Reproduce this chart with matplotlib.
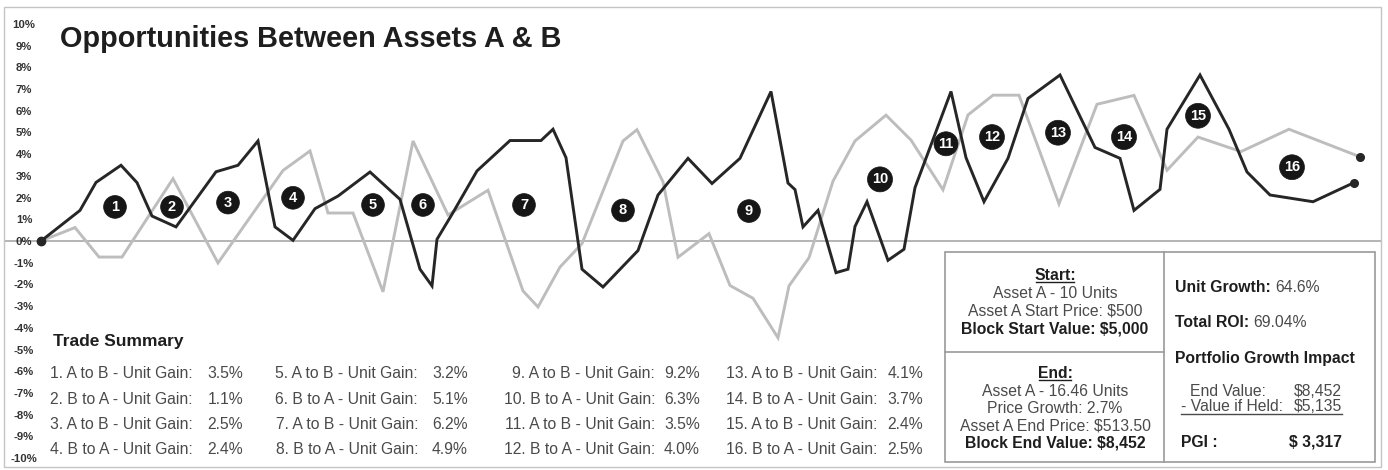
import matplotlib
matplotlib.use("Agg")
import matplotlib.pyplot as plt
from matplotlib.patches import Rectangle
from matplotlib.lines import Line2D

plt.rcParams['font.family'] = ['Liberation Sans', 'DejaVu Sans']

# ---------------- data ----------------
# Asset A (black) price change in %, x = time steps
asset_a_x = [0, 3.9, 5.5, 8.0, 9.6, 11.1, 13.5, 17.5, 19.7, 21.7, 23.4, 25.2, 27.4, 29.7, 32.9,
             35.9, 37.9, 39.1, 39.6, 41.1, 43.6, 46.9, 50.0, 51.2, 52.5, 54.1, 56.2, 59.7, 61.7,
             64.7, 67.1, 69.9, 73.0, 74.7, 75.4, 76.2, 77.7, 79.5, 80.7, 81.4, 82.6, 84.7, 86.3,
             87.4, 91.0, 92.5, 94.3, 96.7, 98.7, 101.9, 105.4, 107.9, 109.3, 111.9, 112.6, 115.9,
             118.8, 120.6, 122.9, 127.2, 131.3]
asset_a_y = [0, 1.41, 2.70, 3.49, 2.69, 1.15, 0.65, 3.19, 3.49, 4.61, 0.65, 0.03, 1.49, 2.07, 3.18,
             1.92, -1.30, -2.07, 0.08, 1.23, 3.23, 4.63, 4.63, 5.15, 3.84, -1.30, -2.12, -0.44, 2.12,
             3.81, 2.65, 3.81, 6.89, 2.67, 2.37, 0.65, 1.41, -1.46, -1.30, 0.67, 1.81, -0.89, -0.38,
             2.46, 6.89, 3.84, 1.81, 3.81, 6.57, 7.65, 4.31, 3.81, 1.41, 2.38, 5.15, 7.65,
             5.15, 3.18, 2.12, 1.81, 2.69]

# Asset B (gray)
asset_b_x = [0, 3.4, 5.8, 8.1, 13.2, 17.7, 24.2, 26.9, 28.7, 31.2, 34.2, 37.2, 40.7, 44.7, 48.2,
             49.7, 51.9, 54.1, 58.2, 59.6, 62.2, 63.7, 66.8, 68.9, 71.2, 73.7, 74.8, 76.8, 79.2,
             81.4, 84.5, 87.0, 90.2, 92.7, 95.2, 97.8, 101.8, 105.6, 109.3, 112.6, 115.7, 120.0,
             124.8, 131.9]
asset_b_y = [0, 0.62, -0.74, -0.74, 2.87, -1.01, 3.25, 4.15, 1.29, 1.29, -2.34, 4.61, 1.20, 2.34,
             -2.30, -3.04, -1.20, -0.12, 4.61, 5.13, 2.73, -0.75, 0.34, -2.05, -2.64, -4.46, -2.07,
             -0.77, 2.76, 4.61, 5.80, 4.65, 2.36, 5.81, 6.72, 6.72, 1.71, 6.30, 6.71, 3.26, 4.79,
             4.12, 5.15, 3.88]

# numbered trade markers
trade_nums = list(range(1, 17))
trade_x = [7.4, 13.1, 18.7, 25.2, 33.2, 38.2, 48.3, 58.2, 70.8, 83.9, 90.5, 95.1, 101.7, 108.3,
           115.7, 125.1]
trade_y = [1.57, 1.57, 1.77, 1.99, 1.66, 1.66, 1.66, 1.41, 1.38, 2.84, 4.48, 4.79, 4.99, 4.79,
           5.77, 3.40]

trade_dirs = ["A to B", "B to A"] * 8
trade_gains = [3.5, 1.1, 2.5, 2.4, 3.2, 5.1, 6.2, 4.9, 9.2, 6.3, 3.5, 4.0, 4.1, 3.7, 2.4, 2.5]

y_ticks = list(range(-10, 11))
y_tick_labels = [f"{v}%" for v in y_ticks]

title = "Opportunities Between Assets A & B"
summary_title = "Trade Summary"

start_lines = ["Asset A - 10 Units", "Asset A Start Price: $500"]
start_bold = "Block Start Value: $5,000"
end_lines = ["Asset A - 16.46 Units", "Price Growth: 2.7%", "Asset A End Price: $513.50"]
end_bold = "Block End Value: $8,452"
unit_growth = "64.6%"
total_roi = "69.04%"
end_value = "$8,452"
value_if_held = "$5,135"
pgi_value = "$ 3,317"

# ---------------- layout helpers ----------------
W, H = 1388, 470
fig = plt.figure(figsize=(W / 100, H / 100), dpi=100)
fig.patch.set_facecolor("white")


def fx(px):
    return px / W


def fy(py):
    return 1 - py / H


TEXT = "#4a4a4a"
DARK = "#1e1e1e"

ax = fig.add_axes([fx(4), fy(458), (1381 - 4) / W, (458 - 24) / H])
ax.set_xlim(-3.7, 134.0)
ax.set_ylim(-10, 10)
for s in ax.spines.values():
    s.set_visible(False)
ax.set_xticks([])
ax.set_yticks(y_ticks)
ax.set_yticklabels(y_tick_labels)
ax.tick_params(axis='y', length=0, pad=-14.4, labelsize=8.2, labelcolor="#333333")
for lab in ax.get_yticklabels():
    lab.set_horizontalalignment('center')
    lab.set_fontweight('bold')
ax.patch.set_alpha(0)

ax.axhline(0, color="#a8a8a8", lw=1.2, zorder=1)
ax.plot(asset_b_x, asset_b_y, color="#bdbdbd", lw=2.1, zorder=2, solid_joinstyle='miter')
ax.plot(asset_a_x, asset_a_y, color="#262626", lw=2.1, zorder=3, solid_joinstyle='miter')
ax.plot([asset_a_x[0]], [asset_a_y[0]], 'o', color="#262626", ms=6, zorder=4)
ax.plot([asset_a_x[-1]], [asset_a_y[-1]], 'o', color="#262626", ms=5.5, zorder=4)
ax.plot([asset_b_x[-1]], [asset_b_y[-1]], 'o', color="#262626", ms=5.5, zorder=4)

for n, x, y in zip(trade_nums, trade_x, trade_y):
    ax.text(x, y, str(n), ha='center', va='center', color='white', fontsize=10.5,
            fontweight='bold', zorder=5,
            bbox=dict(boxstyle='circle,pad=0.3', fc='#161616', ec='#161616', lw=0.5))

# outer border
fig.add_artist(Rectangle((fx(4), fy(467)), (1381 - 4) / W, (467 - 7) / H,
                         transform=fig.transFigure, fill=False, ec="#c4c4c4", lw=1))


def txt(px, py, s, size, bold=False, color=TEXT, ha='left'):
    return fig.text(fx(px), fy(py), s, fontsize=size, fontweight='bold' if bold else 'normal',
                    color=color, ha=ha, va='baseline')


def hline(x0, x1, py, color=DARK):
    fig.add_artist(Line2D([fx(x0), fx(x1)], [fy(py), fy(py)],
                          transform=fig.transFigure, color=color, lw=1))


# title
txt(60, 47, title, 20.8, True, DARK)

# trade summary
txt(53, 346, summary_title, 12.5, True, DARK)
label_end = [193, 418, 655, 877]
value_end = [243, 468, 700, 923]
row_base = [377.5, 403.5, 429, 454]
for i, (d, g) in enumerate(zip(trade_dirs, trade_gains)):
    col, row = divmod(i, 4)
    txt(label_end[col], row_base[row], f"{i + 1}. {d} - Unit Gain:", 11.3, ha='right')
    txt(value_end[col], row_base[row], f"{g:.1f}%", 11.3, ha='right')

# summary table boxes
BOX = "#9a9a9a"
tl, tr, tt, tb = 945, 1375, 252, 462
tdiv, thdiv = 1164, 352
fig.add_artist(Rectangle((fx(tl), fy(tb)), (tr - tl) / W, (tb - tt) / H,
                         transform=fig.transFigure, fill=True, fc='white', ec=BOX, lw=1.2))
fig.add_artist(Line2D([fx(tdiv), fx(tdiv)], [fy(tt), fy(tb)], transform=fig.transFigure,
                      color=BOX, lw=1.2))
fig.add_artist(Line2D([fx(tl), fx(tdiv)], [fy(thdiv), fy(thdiv)], transform=fig.transFigure,
                      color=BOX, lw=1.2))

FS = 11.3
cx = 1055
txt(cx, 280, "Start:", FS, True, DARK, 'center')
hline(cx - 19, cx + 19, 282)
for j, s in enumerate(start_lines):
    txt(cx, 297.5 + 17.7 * j, s, FS, ha='center')
txt(cx, 333, start_bold, FS, True, DARK, 'center')

txt(cx, 377.5, "End:", FS, True, DARK, 'center')
hline(cx - 16, cx + 16, 379.5)
for j, s in enumerate(end_lines):
    txt(cx, 395.7 + 17.2 * j, s, FS, ha='center')
txt(cx, 447.7, end_bold, FS, True, DARK, 'center')

# right cell
rx = 1175


def mixed(px, py, bold, normal):
    t1 = txt(px, py, bold, FS, True, DARK)
    fig.canvas.draw()
    bb = t1.get_window_extent()
    fig.text(bb.x1 / W + 4 / W, fy(py), normal, fontsize=FS, color=TEXT,
             ha='left', va='baseline')


mixed(rx, 291.7, "Unit Growth:", unit_growth)
mixed(rx, 327.3, "Total ROI:", total_roi)
txt(rx, 362.7, "Portfolio Growth Impact", FS, True, DARK)
txt(1190, 396.5, "End Value:", FS)
txt(1342, 396.5, end_value, FS, ha='right')
txt(1181, 411, "- Value if Held:", FS)
txt(1342, 411, value_if_held, FS, ha='right')
hline(1181, 1342, 414, TEXT)
txt(1181, 446.7, "PGI :", FS, True, DARK)
txt(1342, 446.7, pgi_value, FS, True, DARK, 'right')

fig.savefig("out.png", dpi=100, facecolor="white")
